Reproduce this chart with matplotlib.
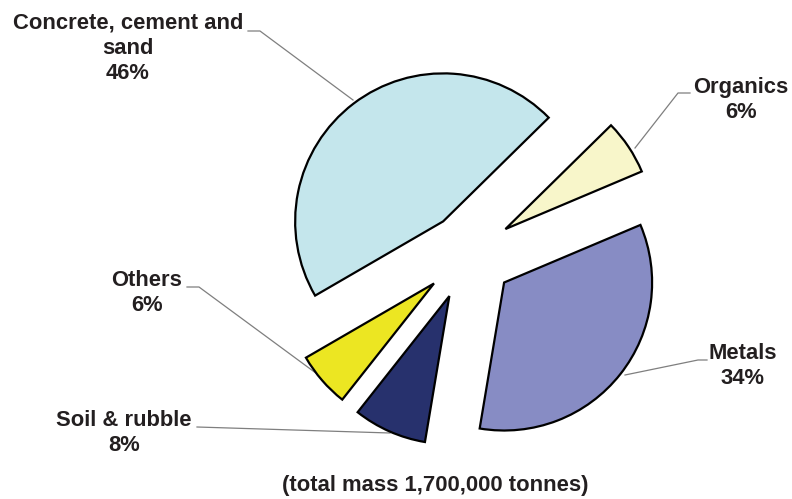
import matplotlib
matplotlib.use("Agg")
import matplotlib.pyplot as plt

# data (clockwise from the upper-right edge of the concrete slice)
categories = ["Organics", "Metals", "Soil & rubble", "Others", "Concrete, cement and\nsand"]
shares = [6, 34, 8, 6, 46]
colors = ["#F8F6CA", "#878CC4", "#27316D", "#ECE622", "#C4E6EC"]
caption = "(total mass 1,700,000 tonnes)"

W, H = 792, 499
fig = plt.figure(figsize=(W / 100, H / 100), dpi=100)
ax = fig.add_axes([0, 0, 1, 1])

# pie drawn in pixel units (y up)
cx, cy, r = 468, H - 254, 148
explode = [45, 46, 46, 45, 41]
ax.pie(shares, colors=colors, startangle=44.5, counterclock=False,
       center=(cx, cy), radius=r, explode=explode,
       wedgeprops=dict(edgecolor="black", linewidth=1.6))
ax.set_xlim(0, W)
ax.set_ylim(0, H)
ax.set_aspect("equal")
ax.axis("off")

font = dict(family="Liberation Sans", fontweight="bold", fontsize=15.8,
            color="#231F20", ha="center", va="center", linespacing=1.25)

# label text positions (image px) and leader lines
label_pos = [(741, 100), (743, 366), (124, 433), (147, 293), (128, 48)]
leaders = [
    [(690, 93), (678, 93), (635, 148)],
    [(707, 360), (698, 360), (625, 375)],
    [(197, 427), (390, 433)],
    [(187, 287), (199, 287), (328, 382)],
    [(248, 31), (260, 31), (353, 100)],
]

for cat, val, (tx, ty), pts in zip(categories, shares, label_pos, leaders):
    ax.text(tx, H - ty, f"{cat}\n{val}%", **font)
    xs = [p[0] for p in pts]
    ys = [H - p[1] for p in pts]
    ax.plot(xs, ys, color="#7F7F7F", linewidth=0.9, zorder=0)

ax.text(435, H - 485, caption, **font)

fig.savefig("out.png", dpi=100)
